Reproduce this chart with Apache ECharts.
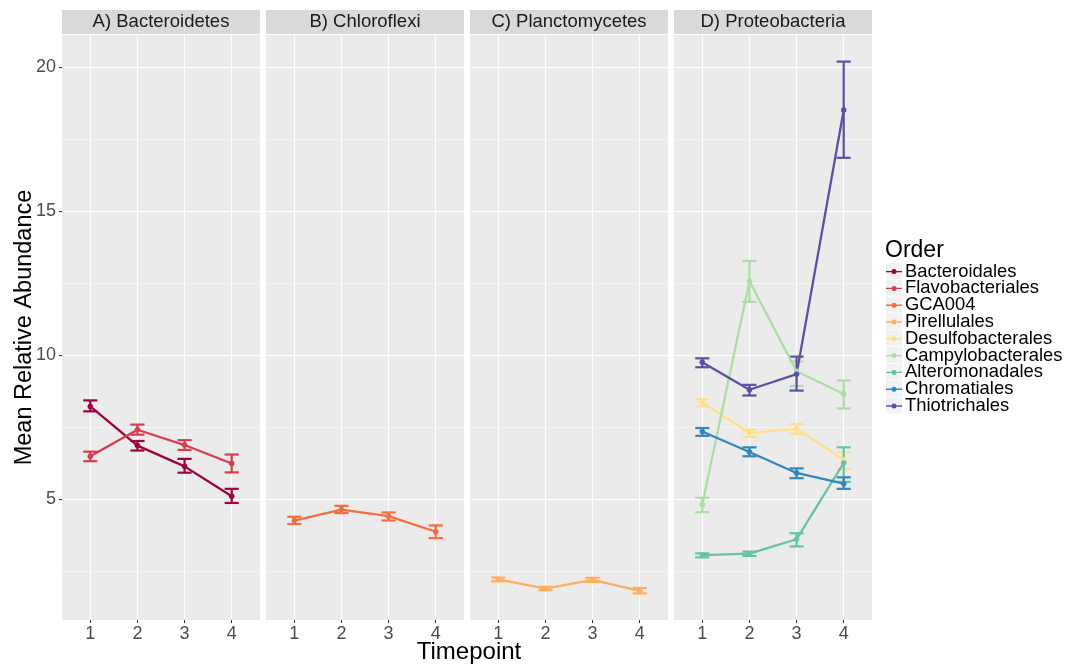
<!DOCTYPE html>
<html>
<head>
<meta charset="utf-8">
<script src="https://cdn.jsdelivr.net/npm/echarts@6/dist/echarts.min.js"></script>
<style>
  html, body { margin: 0; padding: 0; background: #fff; }
  #chart { width: 1081px; height: 664px; }
</style>
</head>
<body>
<div id="chart"></div>
<script>
// timepoints, facet titles and orders
const timepoints = [1, 2, 3, 4];
const panelTitles = ['A) Bacteroidetes', 'B) Chloroflexi', 'C) Planctomycetes', 'D) Proteobacteria'];
const orderNames = ['Bacteroidales', 'Flavobacteriales', 'GCA004', 'Pirellulales', 'Desulfobacterales',
  'Campylobacterales', 'Alteromonadales', 'Chromatiales', 'Thiotrichales'];
const orderPanel = [0, 0, 1, 2, 3, 3, 3, 3, 3];
const orderColors = ['#9E0142', '#D53E4F', '#F46D43', '#FDAE61', '#FEE08B',
  '#ABDDA4', '#66C2A5', '#3288BD', '#5E4FA2'];

// [mean, lower, upper] per timepoint
const bacteroidales = [[8.23, 8.06, 8.44], [6.87, 6.70, 7.03], [6.15, 5.93, 6.41], [5.11, 4.88, 5.37]];
const flavobacteriales = [[6.50, 6.33, 6.66], [7.42, 7.25, 7.60], [6.89, 6.72, 7.06], [6.25, 5.94, 6.56]];
const gca004 = [[4.27, 4.15, 4.40], [4.65, 4.53, 4.78], [4.42, 4.27, 4.55], [3.88, 3.66, 4.10]];
const pirellulales = [[2.23, 2.16, 2.29], [1.91, 1.85, 1.97], [2.21, 2.14, 2.28], [1.83, 1.74, 1.93]];
const desulfobacterales = [[8.37, 8.23, 8.48], [7.31, 7.17, 7.42], [7.45, 7.28, 7.62], [6.38, 6.06, 6.64]];
const campylobacterales = [[4.83, 4.56, 5.06], [12.58, 11.86, 13.28], [9.45, 8.94, 9.79], [8.66, 8.16, 9.13]];
const alteromonadales = [[3.07, 2.99, 3.13], [3.12, 3.04, 3.19], [3.62, 3.37, 3.83], [6.27, 5.61, 6.81]];
const chromatiales = [[7.36, 7.21, 7.48], [6.65, 6.50, 6.81], [5.92, 5.74, 6.08], [5.55, 5.37, 5.77]];
const thiotrichales = [[9.76, 9.59, 9.90], [8.81, 8.61, 8.98], [9.35, 8.78, 9.96], [18.52, 16.86, 20.20]];
const orderData = [bacteroidales, flavobacteriales, gca004, pirellulales, desulfobacterales,
  campylobacterales, alteromonadales, chromatiales, thiotrichales];

// axis ticks
const yMajorTicks = [5, 10, 15, 20];
const yMinorTicks = [2.5, 7.5, 12.5, 17.5];
const yMin = 0.817, yMax = 21.123;
const xMin = 0.4, xMax = 4.6;

// layout
const font = '"Liberation Sans", Arial, sans-serif';
const panelLeft = [62, 266, 470, 674];
const panelWidth = 198;
const panelTop = 35;
const panelHeight = 585;
const stripHeight = 24;
const capHalf = 0.15;

const grids = [], xAxes = [], yAxes = [], series = [], graphics = [];

panelLeft.forEach((left, i) => {
  grids.push({
    left: left, top: panelTop, width: panelWidth, height: panelHeight,
    show: true, backgroundColor: '#EBEBEB', borderWidth: 0
  });
  xAxes.push({
    type: 'value', gridIndex: i, min: xMin, max: xMax,
    axisLine: { show: false },
    axisTick: { show: true, length: 3, customValues: timepoints, lineStyle: { color: '#333', width: 1 } },
    axisLabel: { customValues: timepoints, fontSize: 18, color: '#4D4D4D', margin: 5, fontFamily: font },
    splitLine: { show: true, lineStyle: { color: '#fff', width: 1.1 } }
  });
  yAxes.push({
    type: 'value', gridIndex: i, min: yMin, max: yMax,
    axisLine: { show: false },
    axisTick: { show: i === 0, length: 3, customValues: yMajorTicks, lineStyle: { color: '#333', width: 1 } },
    axisLabel: { show: i === 0, customValues: yMajorTicks, fontSize: 18, color: '#4D4D4D', margin: 6, fontFamily: font },
    splitLine: { show: true, lineStyle: { color: '#fff', width: 1.1 } }
  });
  yAxes.push({
    type: 'value', gridIndex: i, min: yMin, max: yMax, position: 'right',
    axisLine: { show: false },
    axisTick: { show: false, customValues: yMinorTicks },
    axisLabel: { show: false, customValues: yMinorTicks },
    splitLine: { show: true, lineStyle: { color: '#fff', width: 0.5 } }
  });
  // facet strip
  graphics.push({
    type: 'rect', left: left, top: panelTop - stripHeight - 1, z: 1,
    shape: { width: panelWidth, height: stripHeight },
    style: { fill: '#D9D9D9' }
  });
  graphics.push({
    type: 'text', x: left + panelWidth / 2, y: panelTop - 1 - stripHeight / 2, z: 2,
    style: { text: panelTitles[i], fill: '#1A1A1A', font: '18.5px ' + font, textAlign: 'center', textVerticalAlign: 'middle' }
  });
});

orderNames.forEach((name, k) => {
  const p = orderPanel[k];
  const rows = orderData[k];
  const color = orderColors[k];
  series.push({
    name: name, type: 'line', xAxisIndex: p, yAxisIndex: p * 2,
    data: rows.map((r, j) => [timepoints[j], r[0]]),
    symbol: 'circle', symbolSize: 5.5, showSymbol: true,
    lineStyle: { color: color, width: 2.3 }, itemStyle: { color: color },
    z: 3, animation: false
  });
  series.push({
    name: name, type: 'custom', xAxisIndex: p, yAxisIndex: p * 2,
    data: rows.map((r, j) => [timepoints[j], r[1], r[2]]),
    encode: { x: 0, y: [1, 2] },
    z: 3, animation: false,
    renderItem: function (params, api) {
      const x = api.value(0);
      const lo = api.coord([x, api.value(1)]);
      const hi = api.coord([x, api.value(2)]);
      const half = api.coord([x + capHalf, api.value(2)])[0] - hi[0];
      const st = { stroke: color, lineWidth: 2.2 };
      return {
        type: 'group',
        children: [
          { type: 'line', shape: { x1: hi[0], y1: hi[1], x2: lo[0], y2: lo[1] }, style: st },
          { type: 'line', shape: { x1: hi[0] - half, y1: hi[1], x2: hi[0] + half, y2: hi[1] }, style: st },
          { type: 'line', shape: { x1: lo[0] - half, y1: lo[1], x2: lo[0] + half, y2: lo[1] }, style: st }
        ]
      };
    }
  });
});

// legend key backgrounds
const legendLeft = 886, legendTop = 262.6, legendRow = 16.8;
orderNames.forEach((name, k) => {
  graphics.push({
    type: 'rect', left: legendLeft, top: legendTop + k * legendRow + 0.4, z: 0,
    shape: { width: 16, height: 16 },
    style: { fill: '#F2F2F2' }
  });
});

// axis titles and legend title
graphics.push({
  type: 'text', x: 469, y: 652, z: 2,
  style: { text: 'Timepoint', fill: '#000', font: '24px ' + font, textAlign: 'center', textVerticalAlign: 'middle' }
});
graphics.push({
  type: 'text', x: 25, y: 327.5, rotation: Math.PI / 2, z: 2,
  style: { text: 'Mean Relative Abundance', fill: '#000', font: '23.5px ' + font, textAlign: 'center', textVerticalAlign: 'middle' }
});
graphics.push({
  type: 'text', x: 885, y: 251, z: 2,
  style: { text: 'Order', fill: '#000', font: '23px ' + font, textAlign: 'left', textVerticalAlign: 'middle' }
});

const keyIcon = 'path://M0,1.8 L5.6,1.8 L5.6,3.2 L0,3.2 Z M10.4,1.8 L16,1.8 L16,3.2 L10.4,3.2 Z ' +
  'M5.5,2.5 A2.5,2.5 0 1,0 10.5,2.5 A2.5,2.5 0 1,0 5.5,2.5 Z';

const chart = echarts.init(document.getElementById('chart'));
chart.setOption({
  animation: false,
  backgroundColor: '#fff',
  grid: grids,
  xAxis: xAxes,
  yAxis: yAxes,
  legend: {
    orient: 'vertical', left: legendLeft, top: legendTop, padding: 0,
    data: orderNames.map(n => ({ name: n, icon: keyIcon })),
    itemWidth: 16, itemHeight: 5, itemGap: -1.2,
    selectedMode: false,
    textStyle: { fontSize: 18.4, color: '#000', fontFamily: font, lineHeight: 16.8, padding: [0, 0, 0, -2] }
  },
  graphic: graphics,
  series: series
});
</script>
</body>
</html>
